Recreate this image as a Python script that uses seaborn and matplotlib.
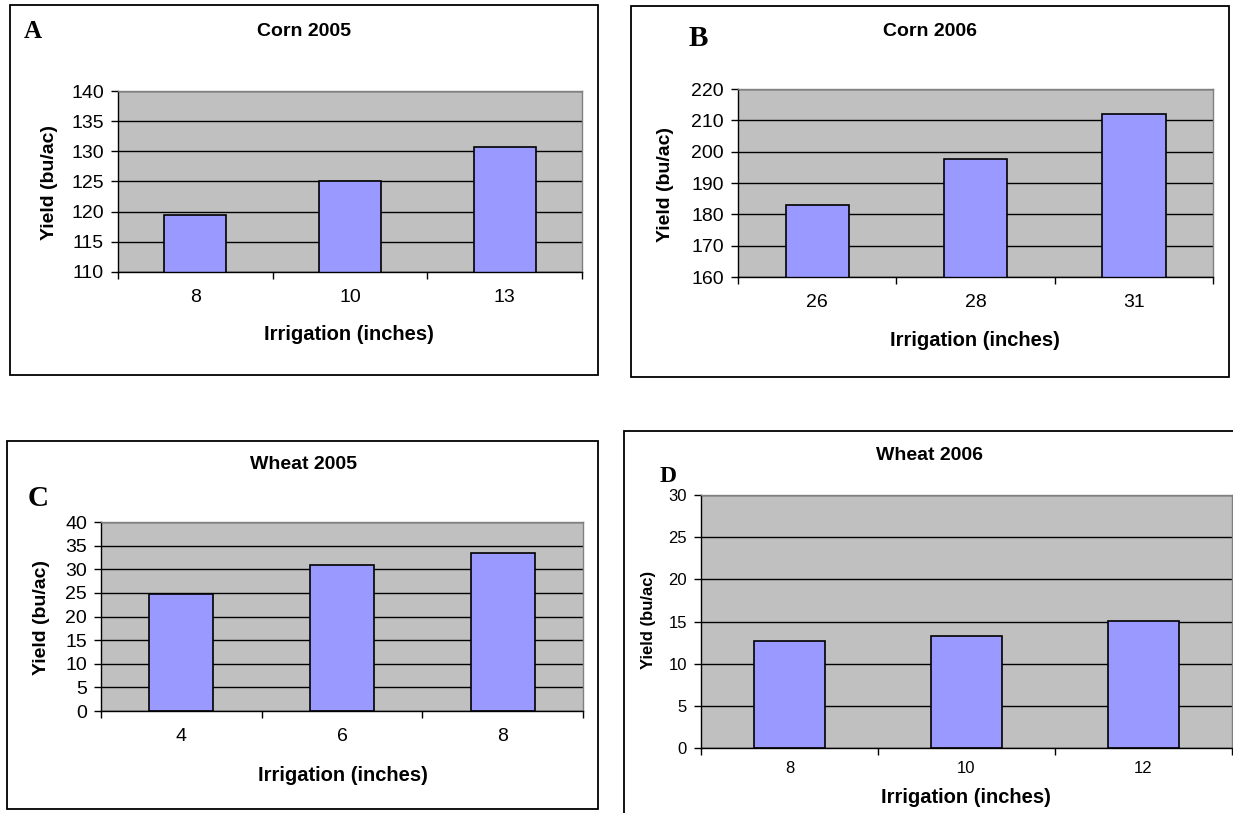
import matplotlib
matplotlib.use('Agg')
import numpy as np
import pandas as pd
import matplotlib.pyplot as plt
import seaborn as sns
from matplotlib.patches import Rectangle

# Values
corn05_irr = ['8', '10', '13']
corn05_yield = [119.5, 125.0, 130.8]
corn06_irr = ['26', '28', '31']
corn06_yield = [183.1, 197.6, 212.0]
wheat05_irr = ['4', '6', '8']
wheat05_yield = [24.7, 31.0, 33.5]
wheat06_irr = ['8', '10', '12']
wheat06_yield = [12.7, 13.3, 15.1]

corn05_ticks = [110, 115, 120, 125, 130, 135, 140]
corn06_ticks = [160, 170, 180, 190, 200, 210, 220]
wheat05_ticks = [0, 5, 10, 15, 20, 25, 30, 35, 40]
wheat06_ticks = [0, 5, 10, 15, 20, 25, 30]

letters = ['A', 'B', 'C', 'D']
titles = ['Corn 2005', 'Corn 2006', 'Wheat 2005', 'Wheat 2006']
x_title = 'Irrigation (inches)'
y_title = 'Yield (bu/ac)'

W, H = 1233, 813
fig = plt.figure(figsize=(W / 100, H / 100), dpi=100)
plt.rcParams['font.family'] = ['Liberation Sans', 'DejaVu Sans']


def fx(x):
    return x / W


def fy(y):
    return 1 - y / H


def draw_panel(box, area, irr, yld, ticks, letter, title, pos, fs):
    # outer chart frame
    x0, y0, x1, y1 = box
    fig.add_artist(Rectangle((fx(x0), fy(y1)), (x1 - x0) / W, (y1 - y0) / H,
                             transform=fig.transFigure, fill=False,
                             ec='black', lw=1.3))

    l, t, r, b = area
    ax = fig.add_axes([fx(l), fy(b), (r - l) / W, (b - t) / H])
    df = pd.DataFrame({'irr': irr, 'yld': yld})
    sns.barplot(data=df, x='irr', y='yld', ax=ax, color='#9999FF',
                saturation=1, width=0.4, edgecolor='black', linewidth=1.2,
                errorbar=None)

    ax.set_facecolor('#C0C0C0')
    ax.set_ylim(ticks[0], ticks[-1])
    ax.set_yticks(ticks)
    ax.yaxis.grid(True, color='black', lw=1)
    ax.set_axisbelow(True)

    # excel style: tick marks between categories, labels centred
    n = len(irr)
    ax.set_xlim(-0.5, n - 0.5)
    ax.set_xticks(np.arange(n + 1) - 0.5)
    ax.set_xticklabels([])
    ax.set_xticks(np.arange(n), labels=irr, minor=True)
    ax.tick_params(axis='x', which='major', length=5, width=1, color='black')
    ax.tick_params(axis='x', which='minor', length=0, pad=fs['xpad'],
                   labelsize=fs['tick'])
    ax.tick_params(axis='y', length=5, width=1, color='black', pad=5,
                   labelsize=fs['tick'])

    for s in ['left', 'bottom']:
        ax.spines[s].set_color('black')
        ax.spines[s].set_linewidth(1)
    for s in ['top', 'right']:
        ax.spines[s].set_color('#808080')
        ax.spines[s].set_linewidth(1)

    ax.set_xlabel(x_title, fontsize=fs['xlab'], fontweight='bold')
    ax.set_ylabel(y_title, fontsize=fs['ylab'], fontweight='bold')
    ax.xaxis.label.set_va('center')
    ax.yaxis.label.set_va('center')
    ax.xaxis.set_label_coords(fx(pos['xlab'][0]), fy(pos['xlab'][1]),
                              transform=fig.transFigure)
    ax.yaxis.set_label_coords(fx(pos['ylab'][0]), fy(pos['ylab'][1]),
                              transform=fig.transFigure)

    fig.text(fx(pos['title'][0]), fy(pos['title'][1]), title,
             fontsize=fs['title'], fontweight='bold', ha='center', va='center')
    fig.text(fx(pos['letter'][0]), fy(pos['letter'][1]), letter,
             family='Liberation Serif', fontsize=fs['letter'],
             fontweight='bold', ha='center', va='center')
    return ax


big = {'tick': 14, 'xlab': 14.5, 'ylab': 14, 'title': 14, 'xpad': 12}

draw_panel((10, 5, 598, 375), (118, 91, 582, 272), corn05_irr, corn05_yield,
           corn05_ticks, letters[0], titles[0],
           {'title': (304, 31), 'letter': (33, 32), 'ylab': (50, 182),
            'xlab': (349, 334)}, dict(big, letter=18))

draw_panel((631, 6, 1229, 377), (738, 89, 1213, 277), corn06_irr, corn06_yield,
           corn06_ticks, letters[1], titles[1],
           {'title': (930, 31), 'letter': (698, 38), 'ylab': (666, 185),
            'xlab': (975, 340)}, dict(big, letter=21))

draw_panel((7, 441, 598, 809), (101, 522, 583, 711), wheat05_irr, wheat05_yield,
           wheat05_ticks, letters[2], titles[2],
           {'title': (304, 464), 'letter': (38, 498), 'ylab': (41, 617),
            'xlab': (343, 775)}, dict(big, letter=21, xpad=12.5))

draw_panel((624, 431, 1245, 825), (701, 495, 1232, 748), wheat06_irr, wheat06_yield,
           wheat06_ticks, letters[3], titles[3],
           {'title': (930, 455), 'letter': (668, 476), 'ylab': (649, 620),
            'xlab': (966, 797)},
           {'tick': 12, 'xlab': 14.5, 'ylab': 12, 'title': 14,
            'xpad': 9, 'letter': 17})

fig.savefig('out.png', dpi=100)
